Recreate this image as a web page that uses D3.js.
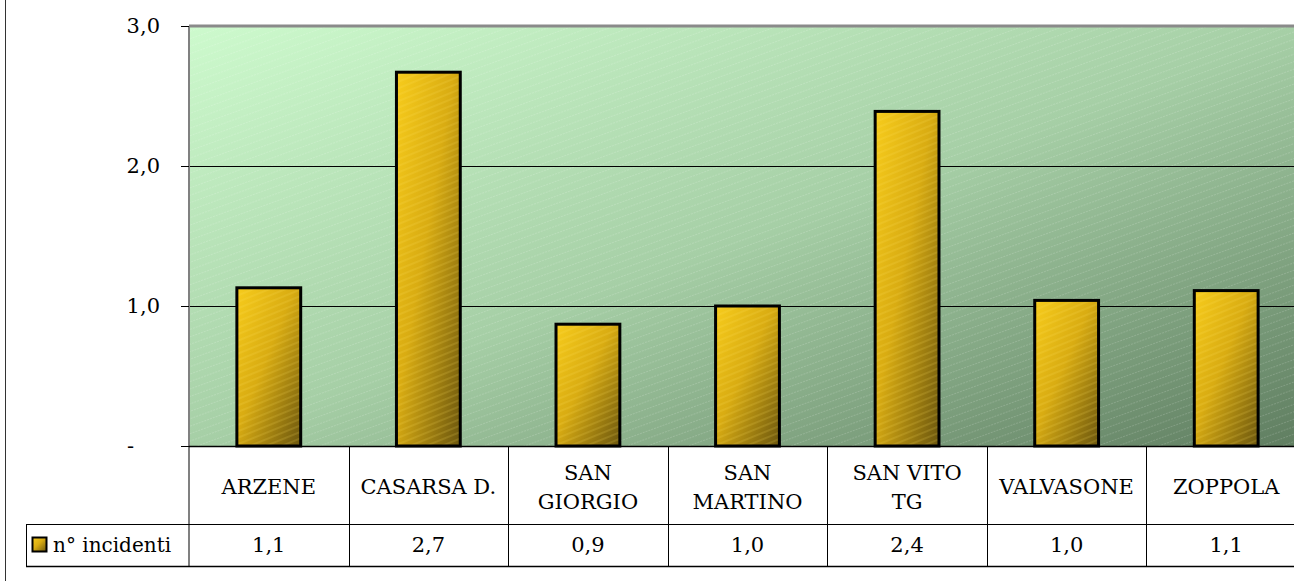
<!DOCTYPE html>
<html><head><meta charset="utf-8">
<script src="https://cdn.jsdelivr.net/npm/d3@7"></script>
<style>html,body{margin:0;padding:0;background:#fff;overflow:hidden}svg{display:block}</style>
</head><body><svg id="c" width="1294" height="581" font-family="'DejaVu Serif', 'Liberation Serif', serif"></svg>
<script>
const categories = [["ARZENE"],["CASARSA D."],["SAN","GIORGIO"],["SAN","MARTINO"],["SAN VITO","TG"],["VALVASONE"],["ZOPPOLA"]];
const values = [1.13, 2.67, 0.87, 1.00, 2.39, 1.04, 1.11];
const yTicks = [0, 1, 2, 3];
const seriesName = "n° incidenti";

const svg = d3.select("#c");
const FONT = "'DejaVu Serif', 'Liberation Serif', serif";
const L = 189, R = 1306, T = 26, B = 446;
const row1 = 524, row2 = 566, legendLeft = 26;
const fs = 21;

const defs = svg.append("defs");
const bg = defs.append("linearGradient").attr("id","bg").attr("x1","0").attr("y1","0").attr("x2","1").attr("y2","1");
bg.append("stop").attr("offset","0").attr("stop-color","#cdfacd");
bg.append("stop").attr("offset","0.5").attr("stop-color","#a6cfa6");
bg.append("stop").attr("offset","1").attr("stop-color","#5f7d60");
const bar = defs.append("linearGradient").attr("id","bar").attr("x1","0").attr("y1","0").attr("x2","1").attr("y2","1");
bar.append("stop").attr("offset","0").attr("stop-color","#f7cc1c");
bar.append("stop").attr("offset","0.45").attr("stop-color","#d9ac12");
bar.append("stop").attr("offset","1").attr("stop-color","#6b560e");
const hatch = defs.append("pattern").attr("id","hatch").attr("patternUnits","userSpaceOnUse")
  .attr("width",6).attr("height",7).attr("patternTransform","rotate(-20)");
hatch.append("line").attr("x1",0).attr("y1",3.5).attr("x2",6).attr("y2",3.5)
  .attr("stroke","#ffffff").attr("stroke-opacity",0.2).attr("stroke-width",0.8).attr("stroke-dasharray","2,1");
const hatch2 = defs.append("pattern").attr("id","hatch2").attr("patternUnits","userSpaceOnUse")
  .attr("width",8).attr("height",6).attr("patternTransform","rotate(-22)");
hatch2.append("line").attr("x1",0).attr("y1",3).attr("x2",8).attr("y2",3)
  .attr("stroke","#ffe066").attr("stroke-opacity",0.15).attr("stroke-width",2);

const x = d3.scaleBand().domain(d3.range(categories.length)).range([L, R]).paddingInner(0.6).paddingOuter(0.3);
const y = d3.scaleLinear().domain([0, 3]).range([B, T]);
const step = x.step();
const colX = i => L + i * step;

// outer frame
svg.append("line").attr("x1",5.5).attr("x2",5.5).attr("y1",0).attr("y2",581).attr("stroke","#333").attr("stroke-width",1);

// plot area
svg.append("rect").attr("x",L).attr("y",T).attr("width",R-L).attr("height",B-T).attr("fill","url(#bg)");
svg.append("rect").attr("x",L).attr("y",T).attr("width",R-L).attr("height",B-T).attr("fill","url(#hatch)");

// gridlines
svg.append("g").selectAll("line").data(yTicks.filter(d=>d>0 && d<3)).join("line")
  .attr("x1",L).attr("x2",R).attr("y1",d=>Math.round(y(d))+0.5).attr("y2",d=>Math.round(y(d))+0.5)
  .attr("stroke","#000").attr("stroke-width",1);

// bars
const bars = svg.append("g");
bars.selectAll("rect.b").data(values).join("rect").attr("class","b")
  .attr("x",(d,i)=>x(i)).attr("y",d=>y(d)).attr("width",x.bandwidth()).attr("height",d=>B-y(d))
  .attr("fill","url(#bar)");
bars.selectAll("rect.h").data(values).join("rect").attr("class","h")
  .attr("x",(d,i)=>x(i)).attr("y",d=>y(d)).attr("width",x.bandwidth()).attr("height",d=>B-y(d))
  .attr("fill","url(#hatch2)").attr("stroke","#000").attr("stroke-width",3);

// plot borders
svg.append("line").attr("x1",L).attr("x2",R).attr("y1",T).attr("y2",T).attr("stroke","#8a8a8a").attr("stroke-width",3);
svg.append("line").attr("x1",L).attr("x2",L).attr("y1",T).attr("y2",row2).attr("stroke","#808080").attr("stroke-width",2);

// y axis
const yAxis = svg.append("g").attr("transform",`translate(${L},0)`)
  .call(d3.axisLeft(y).tickValues(yTicks).tickSize(8).tickPadding(21)
    .tickFormat(d => d === 0 ? "-" : d3.format(".1f")(d).replace(".",",")));
yAxis.attr("font-family",FONT).attr("font-size",21);
yAxis.select(".domain").remove();
yAxis.selectAll(".tick line").attr("stroke","#000");
yAxis.selectAll(".tick text").attr("fill","#000");
yAxis.selectAll(".tick text").filter(d => d === 0).attr("text-anchor","start").attr("x",-62);

// table
const tbl = svg.append("g").attr("stroke","#000").attr("stroke-width",1);
tbl.append("line").attr("x1",L).attr("x2",R).attr("y1",B+0.5).attr("y2",B+0.5).attr("stroke-width",1.5);
tbl.append("line").attr("x1",legendLeft).attr("x2",R).attr("y1",row1+0.5).attr("y2",row1+0.5);
tbl.append("line").attr("x1",legendLeft).attr("x2",R).attr("y1",row2+0.5).attr("y2",row2+0.5).attr("stroke-width",1.5);
tbl.append("line").attr("x1",legendLeft+0.5).attr("x2",legendLeft+0.5).attr("y1",row1).attr("y2",row2);
tbl.selectAll("line.c").data(d3.range(1, categories.length+1)).join("line").attr("class","c")
  .attr("x1",i=>Math.round(colX(i))+0.5).attr("x2",i=>Math.round(colX(i))+0.5).attr("y1",B).attr("y2",row2);

// category labels
const catG = svg.append("g").attr("font-size",fs).attr("font-family",FONT).attr("text-anchor","middle").attr("fill","#000");
categories.forEach((lines, i) => {
  const cx = x(i) + x.bandwidth()/2;
  const n = lines.length;
  lines.forEach((t, k) => {
    const cy = (B + row1)/2 + 2 + (k - (n-1)/2) * 29;
    catG.append("text").attr("x",cx).attr("y",cy).attr("dy","0.35em").text(t);
  });
});

// values row
const fmt = d => d3.format(".1f")(d).replace(".",",");
svg.append("g").attr("font-size",fs).attr("font-family",FONT).attr("text-anchor","middle").selectAll("text").data(values).join("text")
  .attr("x",(d,i)=>x(i)+x.bandwidth()/2).attr("y",(row1+row2)/2).attr("dy","0.35em").text(fmt);

// legend
svg.append("rect").attr("x",32.5).attr("y",537.5).attr("width",14).attr("height",14)
  .attr("fill","url(#bar)").attr("stroke","#000").attr("stroke-width",2);
svg.append("text").attr("x",53).attr("y",(row1+row2)/2).attr("dy","0.35em").attr("font-size",fs-1).attr("font-family",FONT).text(seriesName);
</script></body></html>
